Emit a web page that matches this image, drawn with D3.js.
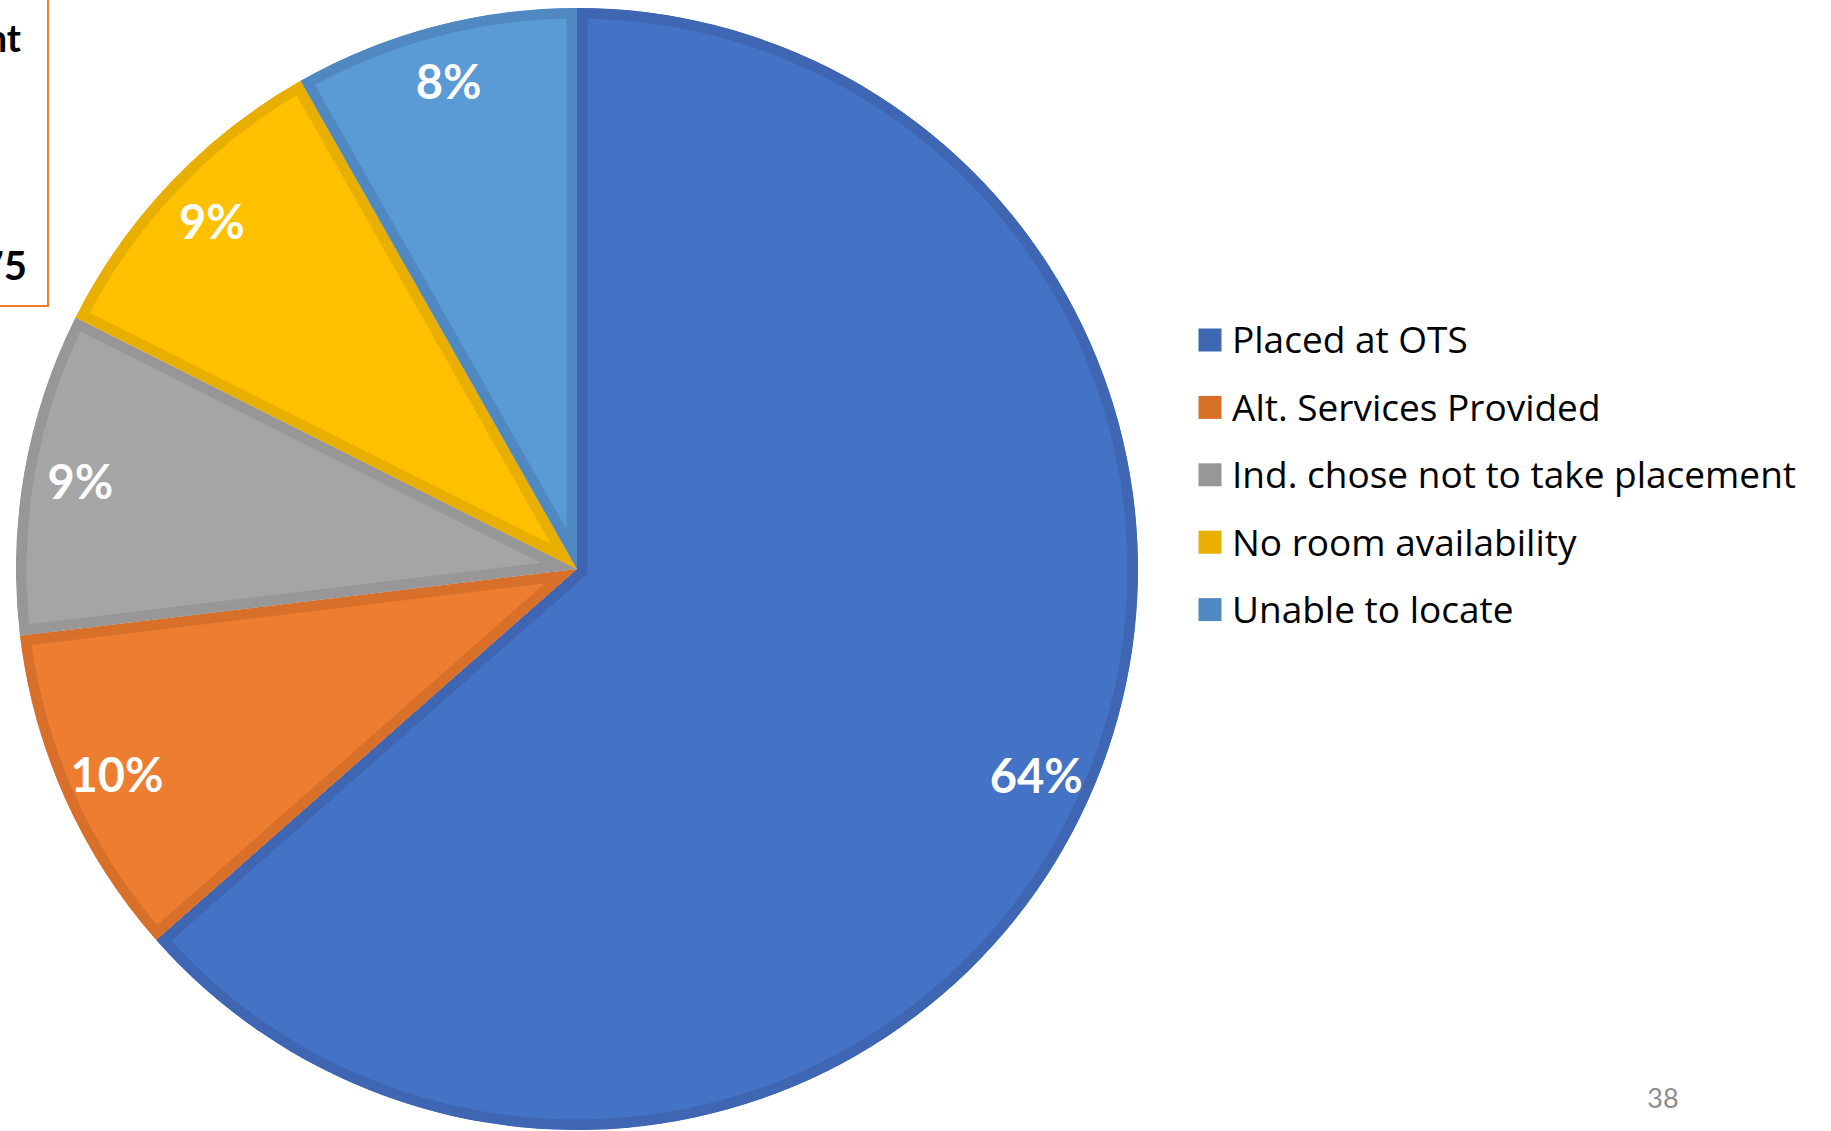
<!DOCTYPE html>
<html>
<head>
<meta charset="utf-8">
<script src="https://cdn.jsdelivr.net/npm/d3@7"></script>
<style>
  html, body { margin: 0; padding: 0; background: #ffffff; }
  svg { display: block; }
</style>
</head>
<body>
<svg id="chart" width="1831" height="1131"></svg>
<script>
// ---- data ----
const categories = [
  "Placed at OTS",
  "Alt. Services Provided",
  "Ind. chose not to take placement",
  "No room availability",
  "Unable to locate"
];
const shares = [63.5, 9.6, 9.3, 9.4, 8.2];   // percent of total
const boxLines = ["nt", "75"];               // visible fragments of the cropped text box
const pageNumber = "38";

// ---- styles ----
const fills   = ["#4472C4", "#ED7D31", "#A5A5A5", "#FFC000", "#5B9BD5"];
const borders = ["#3E66B3", "#D8702A", "#979797", "#E8AF00", "#5089C1"];
const FONT = "Lato, 'Open Sans', sans-serif";
const LEGEND_FONT = "'Open Sans', Lato, sans-serif";

const svg = d3.select("#chart");
const W = 1831, H = 1131;
svg.append("rect").attr("width", W).attr("height", H).attr("fill", "#fff");

// ---- pie ----
const cx = 577, cy = 569, R = 561;
const pie = d3.pie().sort(null).value(d => d.value);
const data = categories.map((c, i) => ({ name: c, value: shares[i], i }));
const arcs = pie(data);
const arc = d3.arc().innerRadius(0).outerRadius(R);
const labelArc = d3.arc().innerRadius(504).outerRadius(504);

const g = svg.append("g").attr("transform", `translate(${cx},${cy})`);
const defs = svg.append("defs");

arcs.forEach((a, k) => {
  defs.append("clipPath").attr("id", "clip" + k)
    .append("path").attr("d", arc(a));
});

g.selectAll("path.slice")
  .data(arcs)
  .join("path")
  .attr("class", "slice")
  .attr("d", arc)
  .attr("fill", d => fills[d.data.i])
  .attr("stroke", d => borders[d.data.i])
  .attr("stroke-width", 21)
  .attr("stroke-linejoin", "miter")
  .attr("clip-path", (d, k) => `url(#clip${k})`);

g.selectAll("text.lbl")
  .data(arcs)
  .join("text")
  .attr("class", "lbl")
  .attr("transform", d => `translate(${labelArc.centroid(d)})`)
  .attr("text-anchor", "middle")
  .attr("dy", "0.36em")
  .attr("font-family", FONT)
  .attr("font-weight", 700)
  .attr("font-size", 47)
  .attr("fill", "#ffffff")
  .text(d => Math.round(d.data.value) + "%");

// ---- legend ----
const legendX = 1198.5, legendY0 = 340, legendStep = 67.4, sw = 23;
const lg = svg.append("g");
const rows = lg.selectAll("g.row")
  .data(categories)
  .join("g")
  .attr("class", "row")
  .attr("transform", (d, i) => `translate(${legendX},${legendY0 + i * legendStep})`);
rows.append("rect")
  .attr("x", 0).attr("y", -sw / 2)
  .attr("width", sw).attr("height", sw)
  .attr("fill", (d, i) => borders[i]);
rows.append("text")
  .attr("x", 33.5)
  .attr("dy", "0.36em")
  .attr("font-family", LEGEND_FONT)
  .attr("font-size", 37)
  .attr("fill", "#000")
  .text(d => d);

// ---- cropped text box at top-left ----
svg.append("rect")
  .attr("x", -20).attr("y", -20)
  .attr("width", 68).attr("height", 326)
  .attr("fill", "none")
  .attr("stroke", "#ED7D31")
  .attr("stroke-width", 2);
svg.append("text")
  .attr("x", 21).attr("y", 52)
  .attr("text-anchor", "end")
  .attr("font-family", FONT).attr("font-weight", 700).attr("font-size", 38)
  .attr("fill", "#000")
  .text(boxLines[0]);
svg.append("text")
  .attr("x", 27).attr("y", 280)
  .attr("text-anchor", "end")
  .attr("font-family", FONT).attr("font-weight", 700).attr("font-size", 40)
  .attr("fill", "#000")
  .text(boxLines[1]);

// ---- page number ----
svg.append("text")
  .attr("x", 1663).attr("y", 1108)
  .attr("text-anchor", "middle")
  .attr("font-family", FONT).attr("font-size", 27)
  .attr("fill", "#8C8C8C")
  .text(pageNumber);
</script>
</body>
</html>
